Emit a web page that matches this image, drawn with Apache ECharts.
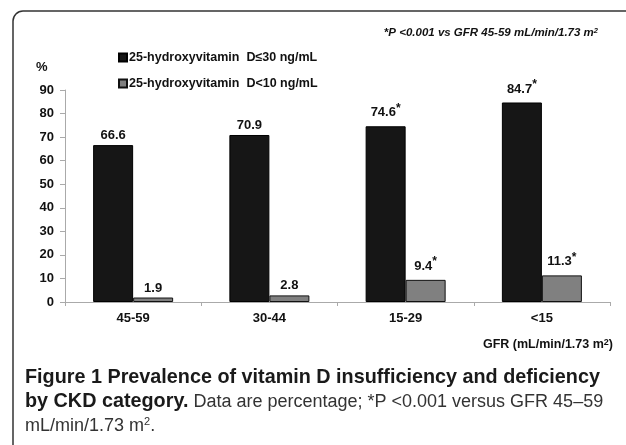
<!DOCTYPE html>
<html><head><meta charset="utf-8">
<script src="https://cdn.jsdelivr.net/npm/echarts@6/dist/echarts.min.js"></script>
<style>html,body{margin:0;padding:0;background:#fff}#c{width:626px;height:445px}</style>
</head><body><div id="c"></div>
<script>
const categories = ['45-59', '30-44', '15-29', '<15'];
const seriesNames = ['25-hydroxyvitamin  D\u226430 ng/mL', '25-hydroxyvitamin  D<10 ng/mL'];
const valuesLE30 = [66.6, 70.9, 74.6, 84.7];
const valuesLT10 = [1.9, 2.8, 9.4, 11.3];
const sigLE30 = [false, false, true, true];
const sigLT10 = [false, false, true, true];
const yTicks = [0, 10, 20, 30, 40, 50, 60, 70, 80, 90];

const FF = '"Liberation Sans", Arial, sans-serif';
const chart = echarts.init(document.getElementById('c'), null, {renderer: 'canvas'});

function mkData(vals, sig) {
  return vals.map((v, i) => ({value: v, sig: sig[i]}));
}
const labelCfg = {
  show: true, position: 'top', distance: 3,
  formatter: p => p.data.sig ? '{v|' + p.value.toFixed(1) + '}{s|*}' : '{v|' + p.value.toFixed(1) + '}',
  rich: {
    v: {fontFamily: FF, fontWeight: 'bold', fontSize: 13, color: '#111'},
    s: {fontFamily: FF, fontWeight: 'bold', fontSize: 12, color: '#111', padding: [0, 0, 9, 0]}
  }
};

chart.setOption({
  animation: false,
  grid: {left: 65, right: 16, top: 90, bottom: 143},
  legend: {
    orient: 'vertical', left: 113, top: 46, itemWidth: 8, itemHeight: 8, itemGap: 13,
    icon: 'rect',
    textStyle: {fontFamily: FF, fontWeight: 'bold', fontSize: 12.5, color: '#111', padding: [0, 0, 0, -3]},
    data: seriesNames
  },
  xAxis: {
    type: 'category', data: categories,
    axisLine: {lineStyle: {color: '#aaa', width: 1}},
    axisTick: {show: true, length: 4, lineStyle: {color: '#aaa'}},
    axisLabel: {fontFamily: FF, fontWeight: 'bold', fontSize: 13, color: '#111', margin: 10}
  },
  yAxis: {
    type: 'value', min: yTicks[0], max: yTicks[yTicks.length - 1], interval: 10,
    axisLine: {show: true, lineStyle: {color: '#aaa', width: 1}},
    axisTick: {show: true, length: 5, lineStyle: {color: '#aaa'}},
    splitLine: {show: false},
    axisLabel: {fontFamily: FF, fontWeight: 'bold', fontSize: 13, color: '#111', margin: 11}
  },
  series: [
    {name: seriesNames[0], type: 'bar', barWidth: 40, barGap: '0%',
     itemStyle: {color: '#161616', borderColor: '#000', borderWidth: 1},
     label: labelCfg, data: mkData(valuesLE30, sigLE30)},
    {name: seriesNames[1], type: 'bar', barWidth: 40, barGap: '0%',
     itemStyle: {color: '#808080', borderColor: '#111', borderWidth: 1},
     label: labelCfg, data: mkData(valuesLT10, sigLT10)}
  ],
  graphic: [
    {type: 'rect', shape: {x: 13, y: 11, width: 720, height: 520, r: 10},
     style: {fill: 'none', stroke: '#333', lineWidth: 1.5}, silent: true},
    {type: 'text', left: 36, top: 61, style: {text: '%', font: 'bold 13px ' + FF, fill: '#111'}},
    {type: 'text', x: 598, y: 33, style: {
      text: '{a|*P <0.001 vs GFR 45-59 mL/min/1.73 m}{b|2}', align: 'right', verticalAlign: 'middle',
      rich: {a: {font: 'italic bold 11.5px ' + FF, fill: '#111'}, b: {font: 'italic bold 7.5px ' + FF, fill: '#111', padding: [0, 0, 5, 0]}}
    }},
    {type: 'text', x: 613, y: 345, style: {
      text: '{a|GFR (mL/min/1.73 m}{b|2}{a|)}', align: 'right', verticalAlign: 'middle',
      rich: {a: {font: 'bold 12.5px ' + FF, fill: '#111'}, b: {font: 'bold 9px ' + FF, fill: '#111', padding: [0, 0, 5, 0]}}
    }},
    {type: 'text', x: 25, y: 378, style: {
      text: 'Figure 1 Prevalence of vitamin D insufficiency and deficiency',
      font: 'bold 19.8px ' + FF, fill: '#1a1a1a', verticalAlign: 'middle'}},
    {type: 'text', x: 25, y: 402, style: {
      text: '{b|by CKD category.}{r| Data are percentage; *P <0.001 versus GFR 45\u201359}',
      verticalAlign: 'middle',
      rich: {b: {font: 'bold 19.8px ' + FF, fill: '#1a1a1a'}, r: {font: '18px ' + FF, fill: '#333'}}}},
    {type: 'text', x: 25, y: 426, style: {
      text: '{r|mL/min/1.73 m}{s|2}{r|.}',
      verticalAlign: 'middle',
      rich: {r: {font: '18px ' + FF, fill: '#333'}, s: {font: '11px ' + FF, fill: '#333', padding: [0, 0, 9, 0]}}}}
  ]
});
</script></body></html>
